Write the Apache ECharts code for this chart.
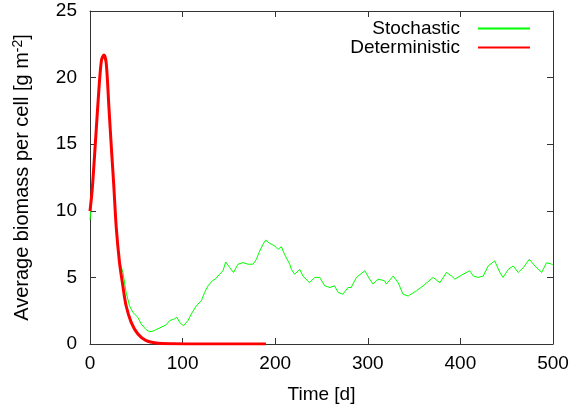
<!DOCTYPE html>
<html><head><meta charset="utf-8">
<script src="https://cdn.jsdelivr.net/npm/echarts@6/dist/echarts.min.js"></script>
<style>html,body{margin:0;padding:0;background:#fff}#c{width:575px;height:409px}</style>
</head><body><div id="c"></div>
<script>
// Deterministic model: time [d], biomass
const detT = [0, 2.4, 6, 9.6, 12.4, 15, 17.5, 20.4, 23.2, 25.6, 28.3, 31.9, 35.5, 39, 44.5, 51.7, 60.7, 71.5, 90, 120, 150, 190];
const detY = [9.98, 11.6, 15.3, 19.1, 21.3, 21.7, 21.1, 17.8, 14.6, 12.0, 8.8, 6.1, 4.36, 2.87, 1.62, 0.75, 0.25, 0.07, 0.02, 0.0, 0.0, 0.0];
// Stochastic model: time [d], biomass
const stoT = [0, 2.4, 6, 9.6, 12.4, 15, 17.5, 20.4, 23.2, 25.6, 28.3, 31.9, 35.5, 39, 42.7, 46.3, 51.7, 55.3, 60.7, 64.3, 68, 75, 82.4, 86, 91.4, 93.9, 96.8, 101, 105.7, 109.4, 114.8, 120.2, 123.8, 127.4, 132, 135, 140, 143.6, 146.5, 150.8, 155, 159.8, 165.2, 170.6, 176, 179.7, 182.5, 186.8, 189.7, 194, 199.5, 203, 206.7, 210, 215.7, 217.5, 221, 226.5, 230, 237, 242.7, 248, 253.5, 259, 264, 268, 273, 278.7, 282, 287.7, 296.8, 302, 305.7, 311, 318, 320, 327.4, 332.8, 338, 343.6, 352.6, 359.8, 370.6, 377.8, 385, 390.5, 394, 403, 410, 414, 419, 424.6, 430, 437, 442.7, 446, 451.7, 457, 462.5, 468, 474.4, 480.5, 487.8, 493, 498.6, 500];
const stoY = [9.3, 11.4, 15.2, 19.0, 21.2, 21.6, 21.0, 17.7, 14.5, 11.9, 8.7, 6.2, 5.4, 3.87, 2.87, 2.37, 2.0, 1.5, 1.07, 0.92, 0.97, 1.2, 1.45, 1.75, 1.9, 2.0, 1.62, 1.37, 1.75, 2.25, 2.87, 3.24, 3.87, 4.36, 4.74, 4.86, 5.24, 5.49, 6.16, 5.74, 5.37, 5.99, 6.11, 5.99, 5.99, 6.36, 6.86, 7.49, 7.8, 7.56, 7.36, 7.1, 7.3, 6.74, 5.99, 5.6, 5.24, 5.6, 5.1, 4.6, 5.0, 5.0, 4.37, 4.24, 4.37, 3.87, 3.74, 4.24, 4.24, 5.0, 5.5, 4.87, 4.5, 4.87, 4.75, 4.5, 5.1, 4.6, 3.74, 3.6, 4.0, 4.37, 5.0, 4.6, 5.37, 5.1, 4.87, 5.24, 5.5, 5.1, 5.0, 5.1, 5.86, 6.24, 5.37, 5.0, 5.6, 5.86, 5.37, 5.74, 6.36, 5.86, 5.37, 6.1, 6.0, 5.9];
const xTicks = [0, 100, 200, 300, 400, 500];
const yTicks = [0, 5, 10, 15, 20, 25];
const seriesNames = ['Stochastic', 'Deterministic'];

const zip = (a, b) => a.map((v, i) => [v, b[i]]);
const FONT = 'Liberation Sans';
const axisCol = '#333';
const chart = echarts.init(document.getElementById('c'), null, {renderer: 'canvas'});
const baseX = {
  type: 'value', min: xTicks[0], max: xTicks[xTicks.length - 1], interval: 100,
  axisLine: {show: true, onZero: false, lineStyle: {color: axisCol, width: 1}},
  axisTick: {show: true, inside: true, length: 6, lineStyle: {color: axisCol}},
  splitLine: {show: false}
};
const baseY = {
  type: 'value', min: yTicks[0], max: yTicks[yTicks.length - 1], interval: 5,
  axisLine: {show: true, onZero: false, lineStyle: {color: axisCol, width: 1}},
  axisTick: {show: true, inside: true, length: 6, lineStyle: {color: axisCol}},
  splitLine: {show: false}
};
chart.setOption({
  animation: false,
  backgroundColor: '#fff',
  textStyle: {fontFamily: FONT},
  grid: {left: 90, right: 22, top: 11, bottom: 64, containLabel: false},
  legend: {
    data: seriesNames, orient: 'vertical', align: 'right', right: 44, top: 19,
    itemWidth: 52, itemHeight: 14, itemGap: 0, padding: 0,
    itemStyle: {opacity: 0},
    textStyle: {fontFamily: FONT, fontSize: 19, color: '#000', padding: [0, 13, 0, 0]}
  },
  xAxis: [
    Object.assign({}, baseX, {
      position: 'bottom', name: 'Time [d]', nameLocation: 'middle', nameGap: 41,
      nameTextStyle: {fontFamily: FONT, fontSize: 19, color: '#000'},
      axisLabel: {fontFamily: FONT, fontSize: 19, color: '#000', margin: 10}
    }),
    Object.assign({}, baseX, {position: 'top', axisLabel: {show: false}})
  ],
  yAxis: [
    Object.assign({}, baseY, {
      position: 'left',
      name: 'Average biomass per cell [g m{sup|-2}]', nameLocation: 'middle', nameGap: 56,
      nameTextStyle: {fontFamily: FONT, fontSize: 20, color: '#000',
        rich: {sup: {fontFamily: FONT, fontSize: 14, color: '#000', verticalAlign: 'top', padding: [0, 0, 9, 0]}}},
      axisLabel: {fontFamily: FONT, fontSize: 19, color: '#000', margin: 13}
    }),
    Object.assign({}, baseY, {position: 'right', axisLabel: {show: false}})
  ],
  series: [
    {name: seriesNames[0], type: 'line', data: zip(stoT, stoY), showSymbol: false, symbol: 'none',
     lineStyle: {color: '#00ff00', width: 1}, itemStyle: {color: '#00ff00'}, z: 2},
    {name: seriesNames[1], type: 'line', data: zip(detT, detY), showSymbol: false, symbol: 'none', smooth: 0.3,
     lineStyle: {color: '#ff0000', width: 3}, itemStyle: {color: '#ff0000'}, z: 3}
  ]
});
</script></body></html>
